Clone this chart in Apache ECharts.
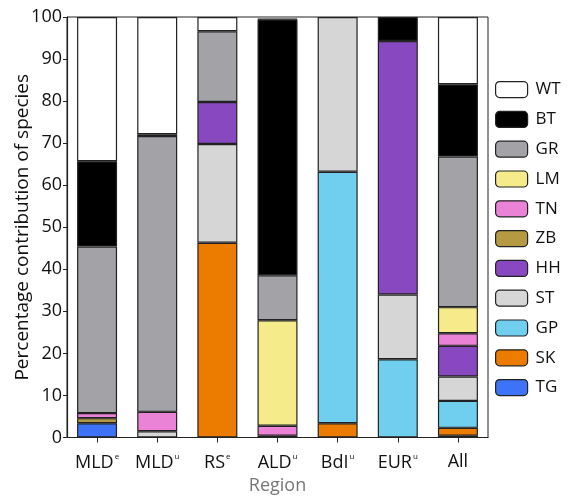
<!DOCTYPE html>
<html><head><meta charset="utf-8">
<script src="https://cdn.jsdelivr.net/npm/echarts@6/dist/echarts.min.js"></script>
<style>html,body{margin:0;padding:0;background:#fff}#c{width:572px;height:497px}</style>
</head><body><div id="c"></div>
<script>
const categories = ['MLD|e', 'MLD|u', 'RS|e', 'ALD|u', 'BdI|u', 'EUR|u', 'All'];
const yTicks = [0, 10, 20, 30, 40, 50, 60, 70, 80, 90, 100];
// stacked from bottom to top
const TG = [3.4, null, null, 0.4, null, null, 0.4];
const SK = [null, null, 46.3, null, 3.4, null, 1.9];
const GP = [null, null, null, null, 59.8, 18.6, 6.4];
const ST = [null, 1.5, 23.5, null, 36.8, 15.4, 5.8];
const HH = [null, null, 10.0, null, null, 60.3, 7.3];
const ZB = [1.2, null, null, null, null, null, null];
const TN = [1.2, 4.6, null, 2.4, null, null, 3.0];
const LM = [null, null, null, 25.1, null, null, 6.2];
const GR = [39.6, 65.6, 16.8, 10.7, null, null, 35.8];
const BT = [20.3, 0.4, null, 60.8, null, 5.7, 17.2];
const WT = [34.3, 27.9, 3.4, 0.2, null, null, 16.0];

const seriesDefs = [
  ['TG', TG, '#3f73f7'], ['SK', SK, '#ec7c00'], ['GP', GP, '#70cfee'],
  ['ST', ST, '#d6d6d6'], ['HH', HH, '#8848c0'], ['ZB', ZB, '#b59a42'],
  ['TN', TN, '#ea82d6'], ['LM', LM, '#f5eb8b'], ['GR', GR, '#a3a2a7'],
  ['BT', BT, '#000000'], ['WT', WT, '#ffffff']
];
const legendOrder = ['WT', 'BT', 'GR', 'LM', 'TN', 'ZB', 'HH', 'ST', 'GP', 'SK', 'TG'];

const chart = echarts.init(document.getElementById('c'), null, {renderer: 'canvas'});
const font = 'Open Sans, Noto Sans, sans-serif';
chart.setOption({
  animation: false,
  grid: {left: 67, right: 84, top: 17, bottom: 59.5, outerBoundsMode: 'none', containLabel: false,
         show: true, borderColor: '#222', borderWidth: 1, backgroundColor: 'transparent'},
  legend: {
    orient: 'vertical', left: 490, top: 76,
    data: legendOrder, itemWidth: 32, itemHeight: 16, itemGap: 12.6,
    textStyle: {fontSize: 17, color: '#111', fontFamily: font, padding: [0, 0, 0, 3]},
    itemStyle: {borderColor: '#222', borderWidth: 1.2}
  },
  xAxis: {
    type: 'category', data: categories,
    name: 'Region', nameLocation: 'middle', nameGap: 39, nameMoveOverlap: false,
    nameTextStyle: {fontSize: 18, color: '#777', fontFamily: font},
    axisLine: {lineStyle: {color: '#222', width: 1.2}},
    axisTick: {show: true, alignWithLabel: true, length: 5, lineStyle: {color: '#222'}},
    axisLabel: {
      interval: 0, margin: 15, color: '#111', fontSize: 18, fontFamily: font,
      formatter: v => { const p = v.split('|'); return p.length > 1 ? p[0] + '{s|' + p[1] + '}' : p[0]; },
      rich: {s: {fontSize: 8, color: '#111', verticalAlign: 'top', padding: [0, 0, 12, 1], fontFamily: font}}
    }
  },
  yAxis: {
    type: 'value', min: yTicks[0], max: yTicks[yTicks.length - 1], interval: 10,
    name: 'Percentage contribution of species', nameLocation: 'middle', nameGap: 35, nameMoveOverlap: false,
    nameTextStyle: {fontSize: 19, color: '#111', fontFamily: font},
    axisLine: {show: true, lineStyle: {color: '#222', width: 1.2}},
    axisTick: {show: true, length: 4, lineStyle: {color: '#222'}},
    splitLine: {show: false},
    axisLabel: {margin: 5, color: '#111', fontSize: 18, fontFamily: font}
  },
  series: seriesDefs.map(([name, data, color]) => ({
    name, type: 'bar', stack: 'all', data, barWidth: 40,
    itemStyle: {color, borderColor: '#222', borderWidth: 1.2}
  }))
});
</script></body></html>
